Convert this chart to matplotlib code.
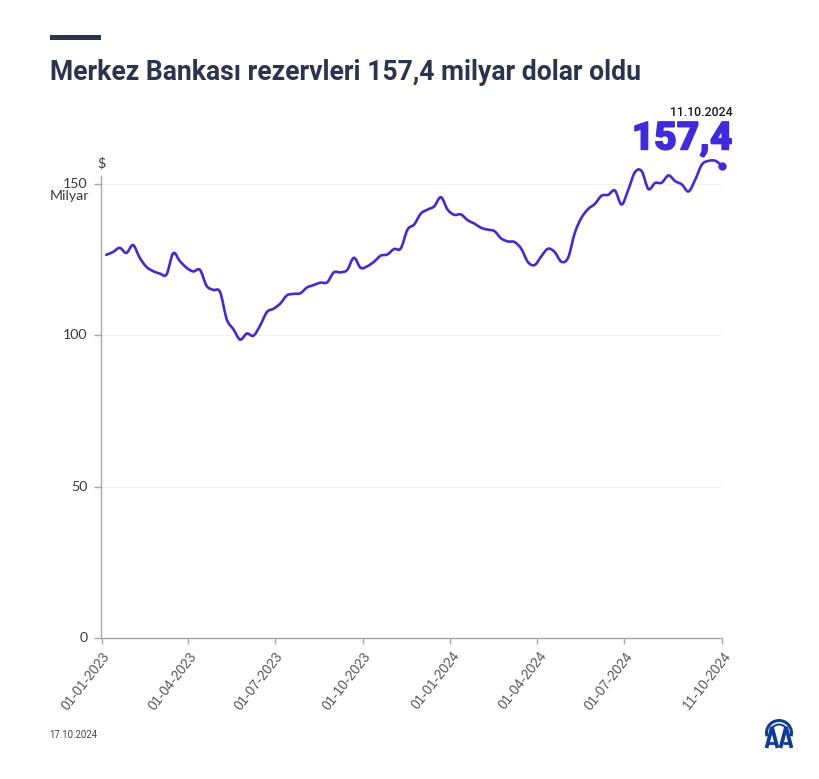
import numpy as np
import pandas as pd
import matplotlib
matplotlib.use('Agg')
import matplotlib.pyplot as plt
import matplotlib.dates as mdates
import matplotlib.patheffects as pe
from matplotlib.path import Path
from matplotlib.patches import PathPatch, Wedge, FancyBboxPatch
from matplotlib.transforms import ScaledTranslation

title = 'Merkez Bankası rezervleri 157,4 milyar dolar oldu'
last_date = '11.10.2024'
last_value = '157,4'
footer_date = '17.10.2024'

# weekly reserves, billion dollars
reserves = [126.5, 127.4, 128.8, 127.1, 129.7, 125.5, 122.5, 121.1, 120.3, 120.0,
            127.0, 124.4, 122.2, 121.0, 121.5, 116.2, 114.9, 114.2, 105.2, 101.9,
            98.5, 100.5, 99.8, 103.2, 107.6, 108.7, 110.4, 113.1, 113.6, 113.8,
            115.7, 116.5, 117.3, 117.4, 120.7, 120.7, 121.5, 125.5, 122.2, 122.7,
            124.2, 126.2, 126.6, 128.4, 128.6, 134.8, 136.5, 140.1, 141.4, 142.5,
            145.5, 141.4, 139.7, 139.8, 137.9, 136.8, 135.4, 134.8, 134.3, 131.9,
            130.9, 130.7, 128.5, 124.1, 123.1, 126.0, 128.5, 127.4, 124.2, 125.5,
            133.7, 138.7, 141.6, 143.3, 146.0, 146.3, 147.7, 143.1, 148.0, 153.8,
            154.1, 148.2, 150.2, 150.3, 152.7, 150.8, 149.7, 147.4, 151.3, 156.3,
            157.5, 157.5, 155.9]
dates = pd.date_range('2023-01-06', periods=len(reserves), freq='7D')

x_ticks = ['2023-01-01', '2023-04-01', '2023-07-01', '2023-10-01',
           '2024-01-01', '2024-04-01', '2024-07-01', '2024-10-11']
x_labels = ['01-01-2023', '01-04-2023', '01-07-2023', '01-10-2023',
            '01-01-2024', '01-04-2024', '01-07-2024', '11-10-2024']
y_ticks = [0, 50, 100, 150]

W, H = 820, 779
LINE = '#4029e3'
DARK = '#2b3350'
AXIS = '#a8a8a8'


def smooth_path(xs, ys):
    # catmull-rom through the points, as bezier segments
    pts = np.column_stack([xs, ys])
    verts = [pts[0]]
    codes = [Path.MOVETO]
    for i in range(len(pts) - 1):
        p0 = pts[max(i - 1, 0)]
        p1 = pts[i]
        p2 = pts[i + 1]
        p3 = pts[min(i + 2, len(pts) - 1)]
        verts += [p1 + (p2 - p0) / 6, p2 - (p3 - p1) / 6, p2]
        codes += [Path.CURVE4] * 3
    return Path(verts, codes)


fig = plt.figure(figsize=(W / 100, H / 100), dpi=100)
ax = fig.add_axes([101.5 / W, 1 - 638 / H, 620.5 / W, 462 / H])

xnum = mdates.date2num(dates)
tick_num = mdates.date2num(pd.to_datetime(x_ticks))
ax.set_xlim(tick_num[0], tick_num[-1])
ax.set_ylim(0, 152.5)

ax.add_patch(PathPatch(smooth_path(xnum, reserves), fill=False, edgecolor=LINE, clip_on=False,
                       lw=1.9, capstyle='round', joinstyle='round', zorder=3))
ax.scatter(xnum[-1], reserves[-1], s=36, color=LINE, zorder=4, clip_on=False, linewidths=0)

ax.set_yticks(y_ticks)
ax.set_xticks(tick_num)
ax.set_xticklabels(x_labels, rotation=52, ha='right', va='top', rotation_mode='anchor',
                   family='Liberation Sans', fontsize=9.8, color='#555555')
ax.tick_params(axis='x', length=4, width=1, color=AXIS, pad=4)
ax.tick_params(axis='y', length=5, width=1, color=AXIS, pad=5, labelsize=10.2, labelcolor='#3a3a3a')
for lab in ax.get_xticklabels():
    lab.set_transform(lab.get_transform() + ScaledTranslation(0.5 / 100, 0, fig.dpi_scale_trans))
for lab in ax.get_yticklabels():
    lab.set_family('Lato')
    lab.set_transform(lab.get_transform() + ScaledTranslation(0, 1 / 100, fig.dpi_scale_trans))
ax.grid(axis='y', color='#f1f1f1', lw=0.9)
ax.set_axisbelow(True)
for s in ['top', 'right']:
    ax.spines[s].set_visible(False)
for s in ['left', 'bottom']:
    ax.spines[s].set_color(AXIS)
    ax.spines[s].set_linewidth(1.0)


def px_text(x, y, s, **kw):
    return fig.text(x / W, 1 - y / H, s, **kw)


fig.add_artist(FancyBboxPatch((50 / W, 1 - 39.5 / H), 51 / W, 5 / H, boxstyle='square,pad=0',
                              transform=fig.transFigure, facecolor=DARK, edgecolor='none'))
px_text(50, 73, title, family='Roboto', weight='bold', fontsize=19.1, color=DARK, va='center')
px_text(733, 112, last_date, family='Roboto', weight='medium', fontsize=8.8, color='#1a1a1a',
        ha='right', va='center')
big = px_text(732.5, 139, last_value, family='Roboto', weight='black', fontsize=28, color=LINE,
              ha='right', va='center')
big.set_path_effects([pe.withStroke(linewidth=1.0, foreground=LINE)])
px_text(101, 163, '$', family='Lato', fontsize=10.2, color='#3a3a3a', ha='center', va='center')
px_text(89, 196, 'Milyar', family='Lato', fontsize=10.2, color='#3a3a3a', ha='right', va='center')
px_text(49.5, 734.5, footer_date, family='Roboto', fontsize=6.9, color='#444444', va='center')

# AA logo
logo = fig.add_axes([760 / W, 1 - 752 / H, 38 / W, 38 / H])
logo.set_xlim(0, 38)
logo.set_ylim(38, 0)
logo.axis('off')
BLUE = '#0f3aa0'
logo.add_patch(Wedge((19, 19), 14, 165, 375, width=3, facecolor=BLUE, edgecolor='none'))
logo.add_patch(Wedge((19, 19), 9.5, 185, 355, width=2, facecolor=BLUE, edgecolor='none'))
for cx in [12, 26]:
    logo.plot([cx - 5.5, cx, cx + 5.5], [34, 13, 34], color=BLUE, lw=2.7,
              solid_joinstyle='miter', solid_capstyle='butt')
    logo.plot([cx - 3.5, cx + 3.5], [28.5, 28.5], color=BLUE, lw=2, solid_capstyle='butt')

fig.savefig('out.png', dpi=100, facecolor='white')
